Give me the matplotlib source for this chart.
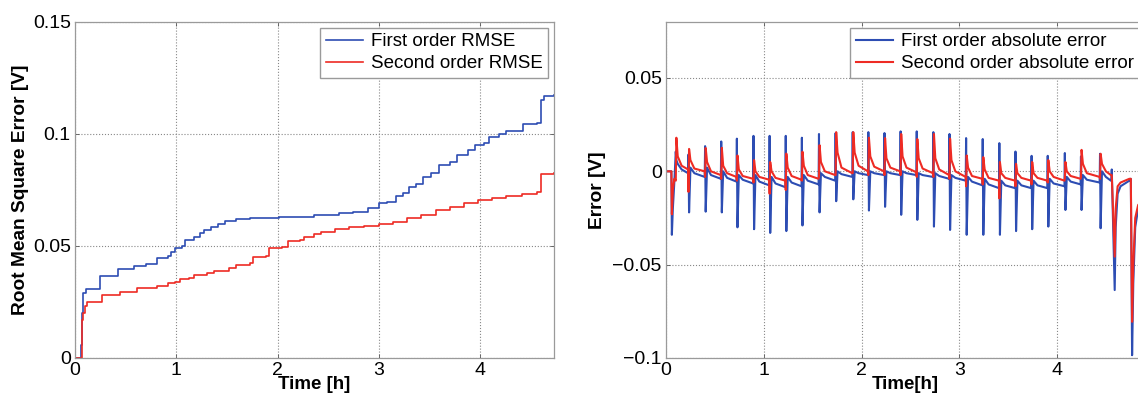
import numpy as np
import matplotlib
matplotlib.use("Agg")
import matplotlib.pyplot as plt
from matplotlib import ticker

plt.rcParams['font.family'] = ['Liberation Sans', 'DejaVu Sans']

# --- left panel: cumulative RMSE ---
rmse1_t = [0, 0.063, 0.07, 0.08, 0.106, 0.247, 0.423, 0.58, 0.70, 0.81, 0.916, 0.95, 0.987,
           1.057, 1.09, 1.18, 1.23, 1.27, 1.34, 1.41, 1.48, 1.59, 1.73, 2.01, 2.36, 2.61,
           2.75, 2.89, 3.0, 3.08, 3.17, 3.24, 3.30, 3.37, 3.44, 3.52, 3.59, 3.70, 3.77,
           3.88, 3.95, 4.04, 4.09, 4.19, 4.26, 4.42, 4.56, 4.60, 4.63, 4.73]
rmse1_v = [0, 0.006, 0.02, 0.029, 0.0307, 0.0367, 0.0397, 0.041, 0.042, 0.0445, 0.0456, 0.0475,
           0.049, 0.050, 0.0527, 0.054, 0.0557, 0.057, 0.0587, 0.060, 0.0613, 0.062, 0.0624,
           0.063, 0.0639, 0.0646, 0.0653, 0.0668, 0.069, 0.0698, 0.0723, 0.0735, 0.0765,
           0.0777, 0.081, 0.0827, 0.0861, 0.0876, 0.0906, 0.0928, 0.095, 0.096, 0.0988,
           0.1002, 0.1013, 0.1044, 0.1047, 0.115, 0.1169, 0.1173]
rmse2_t = [0, 0.07, 0.08, 0.10, 0.123, 0.264, 0.44, 0.617, 0.81, 0.916, 0.987, 1.04, 1.13,
           1.18, 1.30, 1.37, 1.52, 1.59, 1.73, 1.76, 1.885, 1.92, 2.04, 2.10, 2.22, 2.26,
           2.36, 2.43, 2.57, 2.71, 2.85, 3.0, 3.14, 3.28, 3.42, 3.56, 3.70, 3.84, 3.98,
           4.12, 4.26, 4.41, 4.56, 4.60, 4.73]
rmse2_v = [0, 0.017, 0.02, 0.023, 0.025, 0.0282, 0.0294, 0.0312, 0.0322, 0.0334, 0.0341,
           0.0352, 0.0356, 0.0371, 0.0379, 0.039, 0.0401, 0.0416, 0.0426, 0.0453, 0.0456,
           0.049, 0.0497, 0.0524, 0.0527, 0.0542, 0.0554, 0.0564, 0.0575, 0.0584, 0.059,
           0.0598, 0.0609, 0.0624, 0.0639, 0.0661, 0.0676, 0.069, 0.0705, 0.0713, 0.0723,
           0.0732, 0.0743, 0.0821, 0.0827]

# --- right panel: absolute error, one entry per pulse cycle ---
cycle_t = [0.10, 0.23, 0.40, 0.565, 0.725, 0.895, 1.06, 1.225, 1.39, 1.565, 1.735, 1.91,
           2.07, 2.235, 2.40, 2.565, 2.735, 2.90, 3.07, 3.24, 3.41, 3.575, 3.74, 3.905,
           4.08, 4.245, 4.44]
blue_up = [0.0106, 0.009, 0.0135, 0.016, 0.0175, 0.019, 0.019, 0.019, 0.018, 0.020, 0.0205,
           0.021, 0.021, 0.0205, 0.0214, 0.0214, 0.021, 0.020, 0.0178, 0.0173, 0.0151,
           0.0106, 0.0083, 0.0083, 0.0098, 0.008, 0.0094]
blue_down = [0.006, -0.022, -0.0216, -0.022, -0.030, -0.031, -0.033, -0.032, -0.029, -0.022,
             -0.016, -0.015, -0.021, -0.019, -0.0233, -0.026, -0.0296, -0.0314, -0.034,
             -0.034, -0.034, -0.032, -0.031, -0.0296, -0.0207, -0.0207, -0.0305]
blue_after = [0.004, 0.002, 0.002, 0.0, -0.002, -0.002, -0.003, -0.003, -0.002, -0.001, 0.0,
              0.0, 0.0, 0.0, 0.0, -0.001, -0.001, -0.002, -0.003, -0.004, -0.005, -0.005,
              -0.005, -0.004, -0.003, -0.002, 0.0]
blue_mid = [0.001, -0.001, -0.002, -0.0035, -0.0045, -0.0055, -0.0065, -0.006, -0.005, -0.003,
            -0.0015, -0.001, -0.001, -0.001, -0.001, -0.002, -0.0025, -0.0035, -0.0055, -0.007,
            -0.0075, -0.0075, -0.0075, -0.0065, -0.0055, -0.0045, -0.003]
blue_base = [-0.001, -0.003, -0.004, -0.0055, -0.0065, -0.0075, -0.0085, -0.008, -0.007,
             -0.005, -0.003, -0.002, -0.002, -0.002, -0.002, -0.003, -0.004, -0.005, -0.0075,
             -0.009, -0.009, -0.009, -0.009, -0.008, -0.007, -0.006, -0.005]
red_up = [0.018, 0.012, 0.0125, 0.0126, 0.0085, 0.006, 0.005, 0.0095, 0.0105, 0.014, 0.021,
          0.021, 0.018, 0.0178, 0.020, 0.0173, 0.020, 0.0175, 0.0085, 0.0076, 0.005, 0.004,
          0.005, 0.006, 0.005, 0.0115, 0.0094]
red_down = [-0.005, -0.011, -0.003, -0.004, -0.005, -0.006, -0.012, -0.010, -0.005, -0.003,
            -0.002, -0.001, -0.002, -0.002, -0.002, -0.003, -0.003, -0.004, -0.008, -0.007,
            -0.0145, -0.008, -0.007, -0.006, -0.004, -0.003, -0.004]
red_after = [0.008, 0.006, 0.005, 0.003, 0.001, 0.0, 0.0, 0.002, 0.003, 0.005, 0.010, 0.010,
             0.008, 0.007, 0.008, 0.007, 0.007, 0.006, 0.002, 0.001, -0.001, -0.001, -0.001,
             0.0, 0.0, 0.004, 0.004]
red_mid = [0.003, 0.0015, 0.0, -0.001, -0.0025, -0.003, -0.0035, -0.0025, -0.002, 0.0, 0.002,
           0.003, 0.0025, 0.002, 0.002, 0.0015, 0.001, 0.0, -0.0025, -0.0035, -0.0035,
           -0.0035, -0.0035, -0.003, -0.0025, -0.001, 0.0]
red_base = [0.001, 0.0, -0.002, -0.003, -0.004, -0.0045, -0.005, -0.0045, -0.004, -0.002,
            -0.001, 0.0, 0.0, 0.0, -0.0005, -0.001, -0.002, -0.003, -0.004, -0.005, -0.005,
            -0.005, -0.005, -0.005, -0.004, -0.003, -0.002]

lead_t = [0, 0.055, 0.06, 0.07, 0.085]
lead_blue = [0, 0, -0.034, -0.02, -0.006]
lead_red = [0, 0, -0.023, -0.01, -0.004]

tail_t = [4.555, 4.56, 4.59, 4.60, 4.62, 4.65, 4.74, 4.755, 4.768, 4.78, 4.80, 4.83, 4.87]
tail_blue = [-0.005, 0.001, -0.0636, -0.03, -0.012, -0.008, -0.005, -0.004, -0.0985, -0.06,
             -0.03, -0.02, -0.017]
tail_red = [-0.002, -0.002, -0.0457, -0.02, -0.008, -0.006, -0.004, -0.004, -0.0806, -0.05,
            -0.025, -0.018, -0.016]

BLUE = '#2d4db3'
RED = '#ee2b24'


def build_trace(lead_v, first, second, after, mid, base, tail_v):
    # join the per-cycle readings into one polyline
    ts, vs = list(lead_t), list(lead_v)
    for k, t0 in enumerate(cycle_t):
        t_next = cycle_t[k + 1] if k + 1 < len(cycle_t) else tail_t[0]
        ts += [t0, t0 + 0.006, t0 + 0.02, t0 + 0.06, t_next - 0.004]
        vs += [first[k], second[k], after[k], mid[k], base[k]]
    ts += tail_t
    vs += tail_v
    return np.array(ts), np.array(vs)


tb, vb = build_trace(lead_blue, blue_up, blue_down, blue_after, blue_mid, blue_base, tail_blue)
tr, vr = build_trace(lead_red, red_down, red_up, red_after, red_mid, red_base, tail_red)


def fmt(v, pos):
    return f'{v:g}'.replace('-', '\u2212')


def style(ax):
    for s in ax.spines.values():
        s.set_color('#9a9a9a')
        s.set_linewidth(0.9)
    ax.tick_params(direction='in', length=3, width=0.6, color='#555555',
                   labelsize=14, top=True, right=True, pad=3)
    ax.grid(True, linestyle=':', color='#888888', linewidth=0.8)
    ax.yaxis.set_major_formatter(ticker.FuncFormatter(fmt))


fig = plt.figure(figsize=(11.38, 3.97), dpi=100)
ax1 = fig.add_axes([75 / 1138, 39 / 397, 479 / 1138, 336 / 397])
ax2 = fig.add_axes([666 / 1138, 39 / 397, 479 / 1138, 336 / 397])

ax1.plot(rmse1_t, rmse1_v, color=BLUE, lw=1.2, drawstyle='steps-post', label='First order RMSE')
ax1.plot(rmse2_t, rmse2_v, color=RED, lw=1.2, drawstyle='steps-post', label='Second order RMSE')
ax1.set_xlim(0, 4.73)
ax1.set_ylim(0, 0.15)
ax1.set_xticks([0, 1, 2, 3, 4])
ax1.set_yticks([0, 0.05, 0.1, 0.15])
style(ax1)
ax1.set_xlabel('Time [h]', fontsize=13.5, fontweight='bold', labelpad=-2)
ax1.set_ylabel('Root Mean Square Error [V]', fontsize=13.8, fontweight='bold', labelpad=3)
ax1.legend(loc='upper right', fontsize=13.5, frameon=True, fancybox=False, framealpha=1,
           edgecolor='#9a9a9a', borderaxespad=0.3, handlelength=2.0, labelspacing=0.25,
           handletextpad=0.4, borderpad=0.3)

ax2.plot(tb, vb, color=BLUE, lw=1.5, label='First order absolute error')
ax2.plot(tr, vr, color=RED, lw=1.5, label='Second order absolute error')
ax2.set_xlim(0, 4.9)
ax2.set_ylim(-0.1, 0.08)
ax2.set_xticks([0, 1, 2, 3, 4])
ax2.set_yticks([-0.1, -0.05, 0, 0.05])
style(ax2)
ax2.set_xlabel('Time[h]', fontsize=13.5, fontweight='bold', labelpad=-2)
ax2.set_ylabel('Error [V]', fontsize=13.8, fontweight='bold', labelpad=5)
ax2.legend(loc='upper right', fontsize=13.5, frameon=True, fancybox=False, framealpha=1,
           edgecolor='#9a9a9a', borderaxespad=0.3, handlelength=2.0, labelspacing=0.25,
           handletextpad=0.4, borderpad=0.3)

fig.savefig('out.png', dpi=100)
